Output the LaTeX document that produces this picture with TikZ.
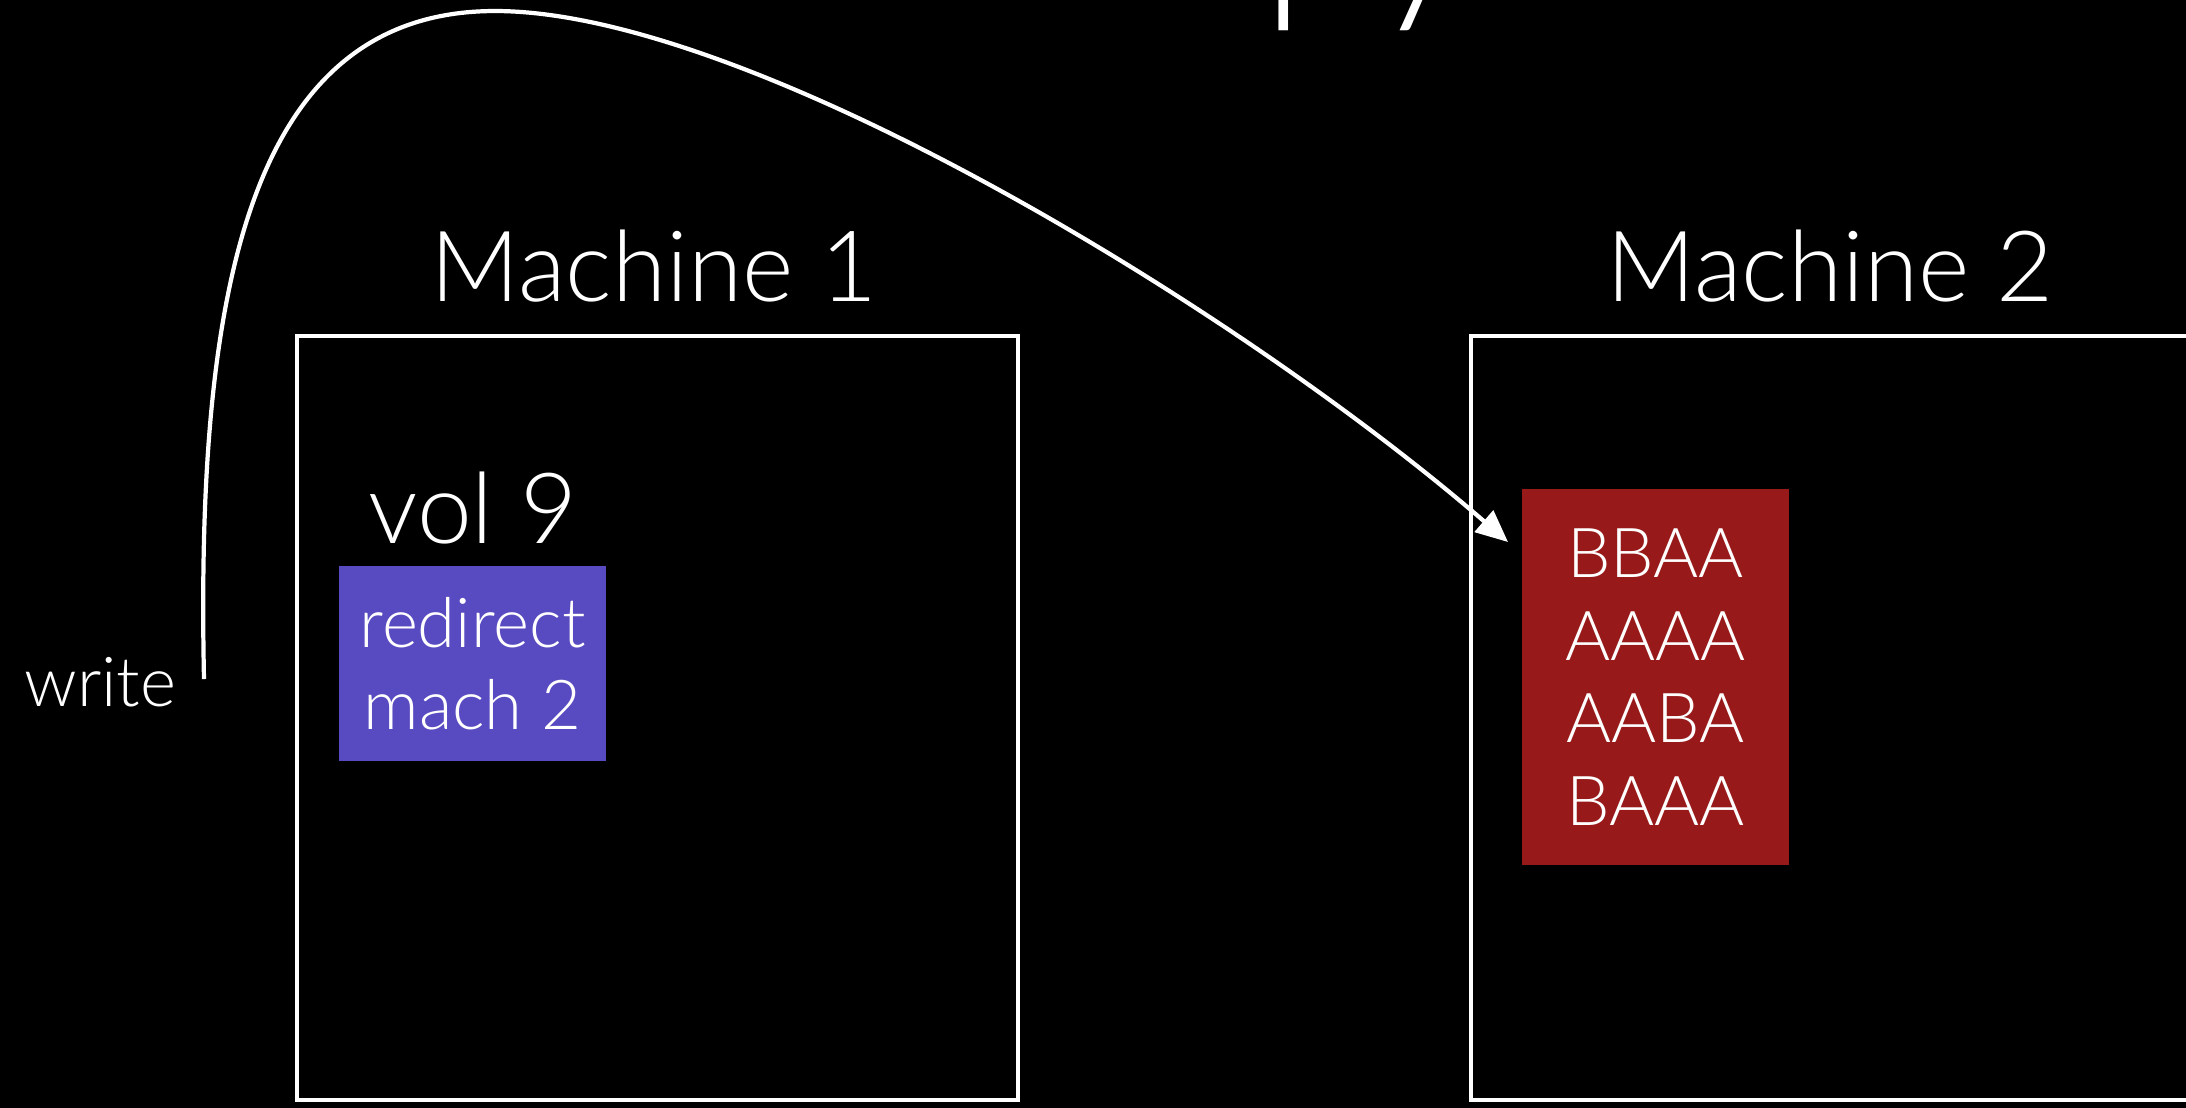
\documentclass[tikz,border=0pt]{standalone}
\usepackage{fontspec}
\setmainfont{Lato}[UprightFont=* Light]
\usetikzlibrary{arrows.meta}

\definecolor{volblue}{RGB}{88,74,192}
\definecolor{datared}{RGB}{152,25,25}

\tikzset{
  machine/.style={draw=white, line width=1.4pt, inner sep=0pt,
    minimum width=7.21cm, minimum height=7.64cm},
  title/.style={text=white, font=\fontsize{28}{34}\selectfont},
  block/.style={text=white, align=center, inner sep=0pt,
    font=\fontsize{19.6}{23.5}\selectfont},
  flow/.style={draw=white, line width=1.2pt,
    -{Triangle[length=0.32cm,width=0.28cm]}},
}

\begin{document}
\begin{tikzpicture}
  % black page
  \useasboundingbox (0,0) rectangle (21.86,-11.07);
  \fill[black] (-0.2,0.2) rectangle (22.1,-11.3);

  % heading, mostly above the page
  \node[text=white, font=\fontsize{57}{60}\selectfont, anchor=base west, inner sep=0pt]
    (heading) at (12.62,0.05) {py};

  % the two machines
  \node[machine] (m1) at (6.575,-7.18) {};
  \node[machine] (m2) at (18.315,-7.18) {};
  \node[title, anchor=base] (m1lbl) at (6.54,-3.01) {Machine 1};
  \node[title, anchor=base] (m2lbl) at (18.30,-3.01) {Machine 2};

  % volume on machine 1 is only a pointer
  \node[title, anchor=base] (vol) at (4.73,-5.43) {vol 9};
  \node[block, fill=volblue, minimum width=2.67cm, minimum height=1.95cm]
    (redir) at (4.725,-6.635) {redirect\\mach 2};

  % the data lives on machine 2
  \node[block, fill=datared, minimum width=2.67cm, minimum height=3.76cm]
    (data) at (16.555,-6.77) {BBAA\\AAAA\\AABA\\BAAA};

  % write goes straight over
  \node[block, anchor=base east] (wlbl) at (1.77,-7.06) {write};
  \coordinate (wr) at (2.04,-6.79);
  \coordinate (tip) at (15.08,-5.42);
  \draw[flow] (wr) .. controls (1.96,-3.00) and (2.45,-0.11) .. (4.95,-0.11)
    .. controls (7.50,-0.11) and (12.40,-3.10) .. (tip);
\end{tikzpicture}
\end{document}
